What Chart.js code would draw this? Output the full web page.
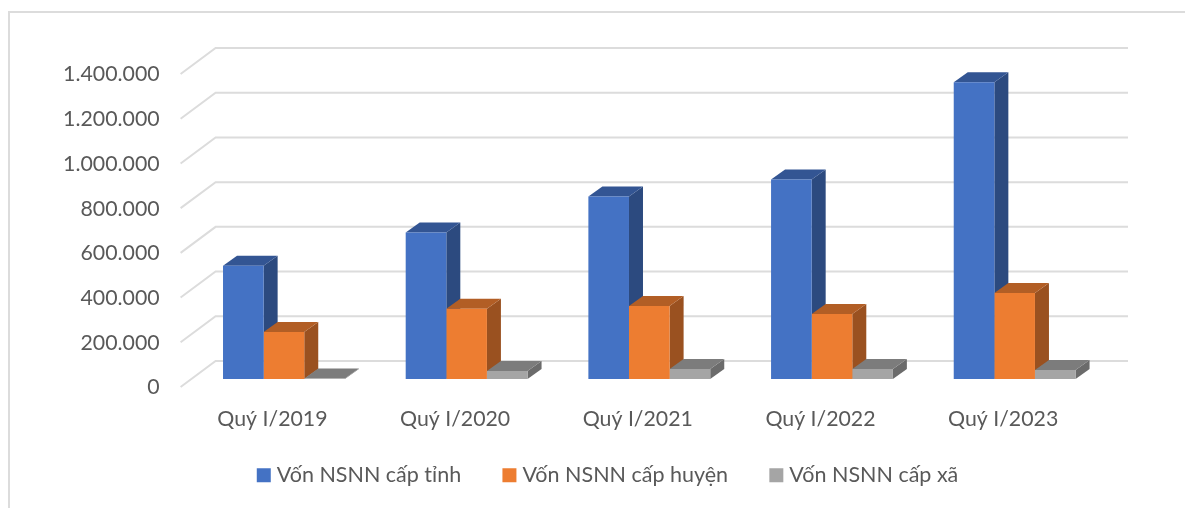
<!DOCTYPE html>
<html><head><meta charset="utf-8">
<style>html,body{margin:0;padding:0;background:#fff}#w{position:relative;width:1185px;height:508px}</style>
<script src="https://cdn.jsdelivr.net/npm/chart.js@4/dist/chart.umd.js"></script>
</head><body><div id="w"><canvas id="c" width="1185" height="508"></canvas></div>
<script>
const categories = ['Quý I/2019','Quý I/2020','Quý I/2021','Quý I/2022','Quý I/2023'];
const seriesNames = ['Vốn NSNN cấp tỉnh','Vốn NSNN cấp huyện','Vốn NSNN cấp xã'];
const capTinh = [507000,655000,816000,892000,1327000];
const capHuyen = [210000,314000,327000,291000,385000];
const capXa = [2000,36000,45000,45000,40000];
const frontColors = ['#4472C4','#ED7D31','#A5A5A5'];
const topColors = ['#335593','#B25E25','#7C7C7C'];
const sideColors = ['#2C4A7F','#9A5120','#6B6B6B'];
const FONT = 'Lato, "Noto Sans", sans-serif';
const textColor = '#595959', gridColor = '#DCDCDC';
const padBottom = 12;

const bars3d = {
  id:'bars3d',
  afterLayout(chart){ chart.scales.x.bottom = chart.height; },
  beforeDatasetsDraw(chart){
    const ctx = chart.ctx, y = chart.scales.y, a = chart.chartArea;
    ctx.save();
    ctx.strokeStyle = gridColor; ctx.lineWidth = 2;
    ctx.beginPath(); ctx.moveTo(9,508); ctx.lineTo(9,12); ctx.lineTo(1185,12); ctx.stroke();
    const wallDx = 35, backDy = 18, frontDy = 8, left = a.left-12;
    y.ticks.forEach(t=>{
      const p = y.getPixelForValue(t.value);
      ctx.beginPath();
      ctx.moveTo(left, p+frontDy);
      ctx.lineTo(left+wallDx, p-backDy);
      ctx.lineTo(1128, p-backDy);
      ctx.stroke();
    });
    const dx = 14, dy = 10;
    const metas = chart.data.datasets.map((d,i)=>chart.getDatasetMeta(i));
    categories.forEach((c,ci)=>{
      metas.forEach((m,si)=>{
        const b = m.data[ci].getProps(['x','y','base','width'],true);
        const l = b.x-b.width/2, r = b.x+b.width/2;
        ctx.fillStyle = sideColors[si];
        ctx.beginPath(); ctx.moveTo(r,b.y); ctx.lineTo(r+dx,b.y-dy); ctx.lineTo(r+dx,b.base-dy); ctx.lineTo(r,b.base); ctx.closePath(); ctx.fill();
        ctx.fillStyle = topColors[si];
        ctx.beginPath(); ctx.moveTo(l,b.y); ctx.lineTo(l+dx,b.y-dy); ctx.lineTo(r+dx,b.y-dy); ctx.lineTo(r,b.y); ctx.closePath(); ctx.fill();
      });
    });
    ctx.restore();
  }
};

new Chart(document.getElementById('c'),{
  type:'bar',
  plugins:[bars3d],
  data:{labels:categories,datasets:[
    {label:seriesNames[0],data:capTinh,backgroundColor:frontColors[0]},
    {label:seriesNames[1],data:capHuyen,backgroundColor:frontColors[1]},
    {label:seriesNames[2],data:capXa,backgroundColor:frontColors[2]}
  ]},
  options:{
    responsive:false,animation:false,
    layout:{padding:{left:34.8,right:0,top:66,bottom:padBottom}},
    datasets:{bar:{categoryPercentage:0.667,barPercentage:1,borderWidth:0}},
    scales:{
      x:{grid:{display:false},border:{display:false},
        ticks:{color:textColor,font:{family:FONT,size:21.3},padding:19,labelOffset:-11.5,maxRotation:0},
        afterFit(s){s.height = 508 - padBottom - s.chart.legend.height - 379;}},
      y:{min:0,max:1400000,grid:{display:false,drawTicks:false},border:{display:false},
        ticks:{stepSize:200000,color:textColor,font:{family:FONT,size:21.3},padding:33,labelOffset:8.5,
          callback:v=>String(v).replace(/\B(?=(\d{3})+$)/g,'.')},
        afterFit(s){s.width = 157.8;}},
      pad:{axis:'y',position:'right',grid:{display:false},border:{display:false},ticks:{display:false},
        afterFit(s){s.width = 79;}}
    },
    plugins:{
      tooltip:{enabled:false},
      legend:{position:'bottom',labels:{
        color:textColor,font:{family:FONT,size:21.5},boxWidth:4.5,boxHeight:4.5,padding:46,
        generateLabels(chart){
          return Chart.defaults.plugins.legend.labels.generateLabels(chart).map((it,i)=>({...it,lineWidth:9.5,strokeStyle:frontColors[i]}));
        }
      }}
    }
  }
});
</script></body></html>
